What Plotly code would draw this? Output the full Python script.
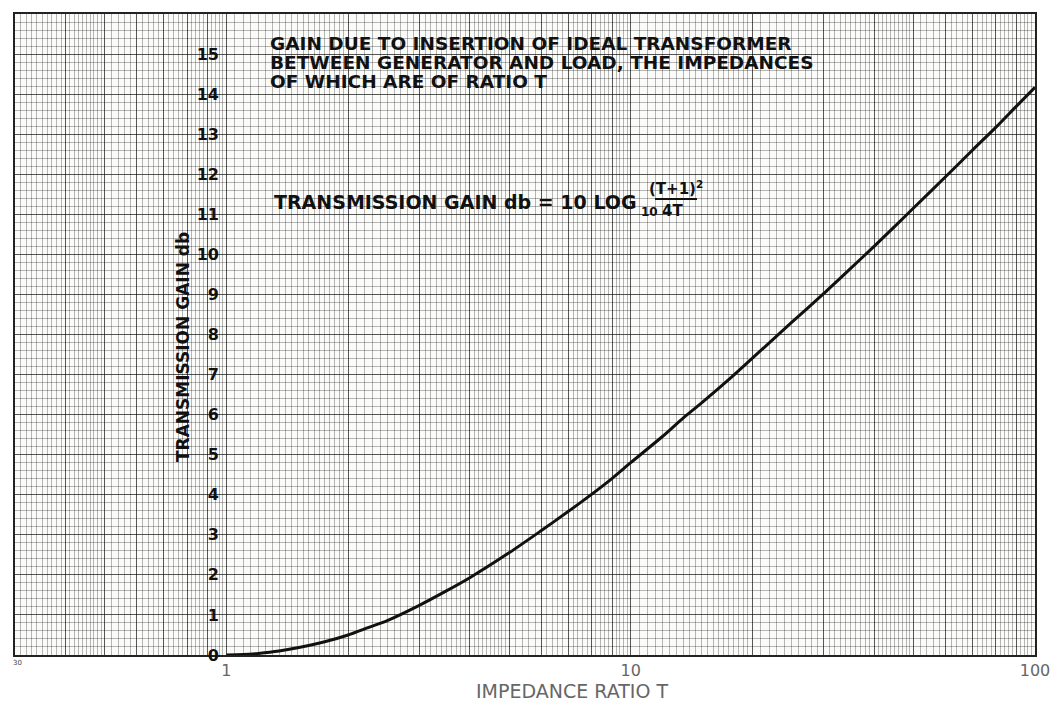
import plotly.graph_objects as go

# Impedance ratio T and the transmission gain (db)
ratio_t = [1.0, 1.1, 1.2, 1.35, 1.5, 1.75, 2.0, 2.25, 2.5, 3.0, 3.5, 4.0, 5.0,
           6.0, 7.0, 8.0, 9.0, 10.0, 12.0, 13.5, 15.0, 17.5, 20.0, 25.0,
           30.0, 35.0, 40.0, 45.0, 50.0, 60.0, 70.0, 80.0, 90.0, 100.0]
gain_db = [0.0, 0.01, 0.04, 0.1, 0.18, 0.33, 0.5, 0.69, 0.86, 1.24, 1.6, 1.93, 2.55,
           3.1, 3.58, 4.01, 4.41, 4.8, 5.46, 5.92, 6.3, 6.88, 7.41, 8.3,
           9.02, 9.65, 10.2, 10.7, 11.15, 11.93, 12.6, 13.17, 13.7, 14.17]

x_tick_vals = [1, 10, 100]
x_tick_text = ["1", "10", "100"]
y_tick_vals = list(range(0, 16))
y_tick_text = [str(v) for v in y_tick_vals]

Y_RANGE = [0, 16]

# graph-paper rulings on the log axis
heavy_x = [round(m * d, 6) for d in (0.1, 1, 10) for m in range(1, 10) if 0.3 <= m * d <= 100] + [100]
light_x = []
for d in (0.1, 1, 10):
    for k in range(100, 1000):
        v = k / 100
        if v < 2:
            step_ok = k % 5 == 0
        elif v < 5:
            step_ok = k % 10 == 0
        else:
            step_ok = k % 20 == 0
        val = round(v * d, 6)
        if step_ok and 0.3 <= val <= 100 and k % 100 != 0:
            light_x.append(val)

light_y = [round(i * 0.2, 2) for i in range(0, 81) if i % 5 != 0]


def x_label(v):
    for tv, tt in zip(x_tick_vals, x_tick_text):
        if abs(v - tv) < 1e-9:
            return tt
    return " "


# page geometry helpers for annotations
L, R, T, B = 15, 1035, 14, 655


def px(xp):
    return (xp - L) / (R - L)


def py(yp):
    return (B - yp) / (B - T)


fig = go.Figure()

fig.add_trace(go.Scatter(
    x=ratio_t, y=gain_db, mode="lines",
    line=dict(color="#111111", width=3, shape="spline", smoothing=0.8),
    xaxis="x", yaxis="y", showlegend=False, hoverinfo="skip",
))
# carrier for the inner scale of db values
fig.add_trace(go.Scatter(x=[None], y=[None], xaxis="x", yaxis="y2",
                         showlegend=False, hoverinfo="skip"))

label_font = dict(family="DejaVu Sans", size=16, color="#111111", weight="bold")
text_font = dict(family="DejaVu Sans", size=18.5, color="#111111", weight="bold")
grid_heavy = "rgba(0,0,0,0.66)"
grid_light = "rgba(0,0,0,0.28)"

fig.update_layout(
    width=1064, height=704,
    margin=dict(l=L, r=1064 - R, t=T, b=704 - B),
    paper_bgcolor="white",
    plot_bgcolor="#fbfbfa",
    showlegend=False,
    xaxis=dict(
        type="log", range=[-0.5229, 2.0],
        tickmode="array", tickvals=heavy_x,
        ticktext=[x_label(v) for v in heavy_x],
        tickfont=dict(family="DejaVu Sans", size=16, color="#666666"),
        ticks="", ticklabelstandoff=0, tickangle=0,
        showgrid=True, gridcolor=grid_heavy, gridwidth=1.2,
        minor=dict(tickmode="array", tickvals=light_x, showgrid=True,
                   gridcolor=grid_light, gridwidth=1, ticks=""),
        showline=True, linecolor="#222222", linewidth=2, mirror=True,
        zeroline=False,
    ),
    yaxis=dict(
        range=Y_RANGE, tickmode="array", tickvals=list(range(0, 17)),
        showticklabels=False, ticks="",
        showgrid=True, gridcolor=grid_heavy, gridwidth=1.2,
        minor=dict(tickmode="array", tickvals=light_y, showgrid=True,
                   gridcolor=grid_light, gridwidth=1, ticks=""),
        showline=True, linecolor="#222222", linewidth=2, mirror=True,
        zeroline=False,
    ),
    yaxis2=dict(
        range=Y_RANGE, overlaying="y", anchor="free", position=px(219),
        side="left", tickmode="array", tickvals=y_tick_vals, ticktext=y_tick_text,
        tickfont=label_font, ticks="", showgrid=False, showline=False,
        zeroline=False,
    ),
)

notes = [
    ("GAIN DUE TO INSERTION OF IDEAL TRANSFORMER", 268, 44),
    ("BETWEEN GENERATOR AND LOAD, THE IMPEDANCES", 268, 63),
    ("OF WHICH ARE OF RATIO T", 268, 82),
]
for txt, xp, yp in notes:
    fig.add_annotation(text=txt, x=px(xp), y=py(yp), xref="paper", yref="paper",
                       xanchor="left", yanchor="middle", showarrow=False, font=text_font)

# formula
fig.add_annotation(text="TRANSMISSION GAIN db = 10 LOG", x=px(272), y=py(202),
                   xref="paper", yref="paper", xanchor="left", yanchor="middle",
                   showarrow=False, font=dict(family="DejaVu Sans", size=19, color="#111111", weight="bold"))
fig.add_annotation(text="10", x=px(639), y=py(212), xref="paper", yref="paper",
                   xanchor="left", yanchor="middle", showarrow=False,
                   font=dict(family="DejaVu Sans", size=12, color="#111111", weight="bold"))
fig.add_annotation(text="(T+1)<sup>2</sup>", x=px(676), y=py(188), xref="paper", yref="paper",
                   xanchor="center", yanchor="middle", showarrow=False,
                   font=dict(family="DejaVu Sans", size=15, color="#111111", weight="bold"))
fig.add_annotation(text="4T", x=px(672), y=py(211), xref="paper", yref="paper",
                   xanchor="center", yanchor="middle", showarrow=False,
                   font=dict(family="DejaVu Sans", size=15, color="#111111", weight="bold"))
fig.add_shape(type="line", xref="paper", yref="paper",
              x0=px(655), x1=px(697), y0=py(199), y1=py(199),
              line=dict(color="#111111", width=2))

# axis titles
fig.add_annotation(text="TRANSMISSION GAIN db", textangle=-90, x=px(183), y=py(347),
                   xref="paper", yref="paper", xanchor="center", yanchor="middle",
                   showarrow=False, font=dict(family="DejaVu Sans", size=17, color="#111111", weight="bold"))
fig.add_annotation(text="IMPEDANCE RATIO T", x=px(572), y=py(691),
                   xref="paper", yref="paper", xanchor="center", yanchor="middle",
                   showarrow=False, font=dict(family="DejaVu Sans", size=19, color="#666666"))
fig.add_annotation(text="30", x=px(17), y=py(663), xref="paper", yref="paper",
                   xanchor="center", yanchor="middle", showarrow=False,
                   font=dict(family="DejaVu Sans", size=7, color="#444444"))

fig.write_html("out.html")
